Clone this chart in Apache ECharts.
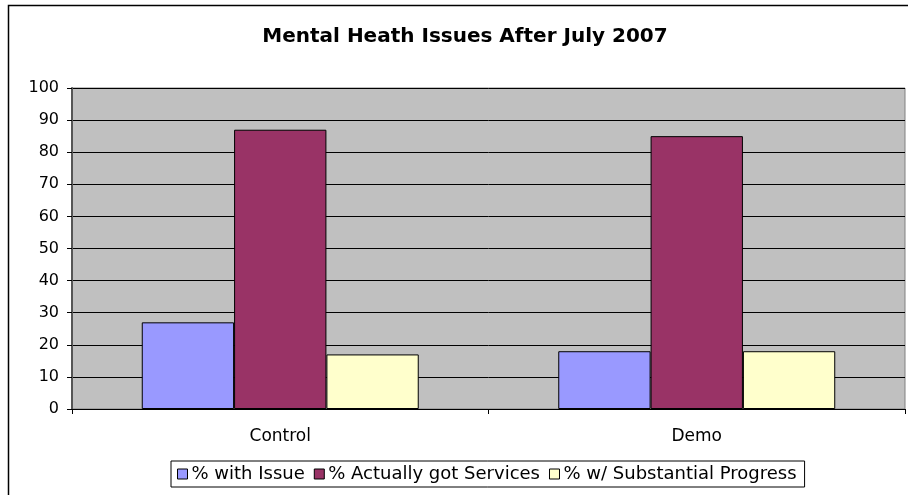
<!DOCTYPE html>
<html>
<head>
<meta charset="utf-8">
<script src="https://cdn.jsdelivr.net/npm/echarts@6/dist/echarts.min.js"></script>
<style>html,body{margin:0;padding:0;background:#fff}#c{width:908px;height:495px}</style>
</head>
<body>
<div id="c"></div>
<script>
const categories = ['Control', 'Demo'];
const seriesNames = ['% with Issue', '% Actually got Services', '% w/ Substantial Progress'];
const withIssue = [27, 18];
const gotServices = [87, 85];
const substantialProgress = [17, 18];
const colors = ['#9999ff', '#993366', '#ffffcc'];
const FONT = '"DejaVu Sans", Verdana, sans-serif';

const chart = echarts.init(document.getElementById('c'), null, {renderer: 'canvas'});
const values = [withIssue, gotServices, substantialProgress];
chart.setOption({
  animation: false,
  textStyle: {fontFamily: FONT},
  graphic: [{
    type: 'rect', silent: true, z: -10,
    shape: {x: 8.5, y: 5.5, width: 1000, height: 1000},
    style: {fill: '#fff', stroke: '#000', lineWidth: 1.5}
  }],
  title: {
    text: 'Mental Heath Issues After July 2007',
    left: 460, textAlign: 'center', top: 22,
    textStyle: {fontFamily: FONT, fontSize: 20, fontWeight: 'bold', color: '#000'}
  },
  legend: {
    data: seriesNames,
    left: 171, top: 461,
    width: 720,
    padding: [4, 8, 4, 6],
    itemGap: 9,
    itemWidth: 10, itemHeight: 10,
    icon: 'rect',
    borderColor: '#000', borderWidth: 1,
    textStyle: {fontFamily: FONT, fontSize: 18, color: '#000', padding: [0, 0, 0, -1]},
    itemStyle: {borderColor: '#000', borderWidth: 1}
  },
  grid: {
    left: 72, top: 88, width: 833, height: 321,
    show: true, backgroundColor: '#c0c0c0',
    borderColor: '#808080', borderWidth: 1,
    containLabel: false
  },
  xAxis: {
    type: 'category', data: categories,
    axisLine: {lineStyle: {color: '#000', width: 1}},
    axisTick: {show: true, length: 5, lineStyle: {color: '#000'}},
    axisLabel: {fontFamily: FONT, fontSize: 17, color: '#000', margin: 19}
  },
  yAxis: {
    type: 'value', min: 0, max: 100, interval: 10,
    axisLine: {show: true, lineStyle: {color: '#555', width: 2}},
    axisTick: {show: true, length: 5, lineStyle: {color: '#000'}},
    axisLabel: {fontFamily: FONT, fontSize: 16, color: '#000', margin: 13},
    splitLine: {lineStyle: {color: '#000', width: 1}}
  },
  series: seriesNames.map((n, i) => ({
    name: n, type: 'bar', data: values[i],
    barGap: '0%', barCategoryGap: '33.5%',
    itemStyle: {color: colors[i], borderColor: '#000', borderWidth: 1}
  }))
});
</script>
</body>
</html>
